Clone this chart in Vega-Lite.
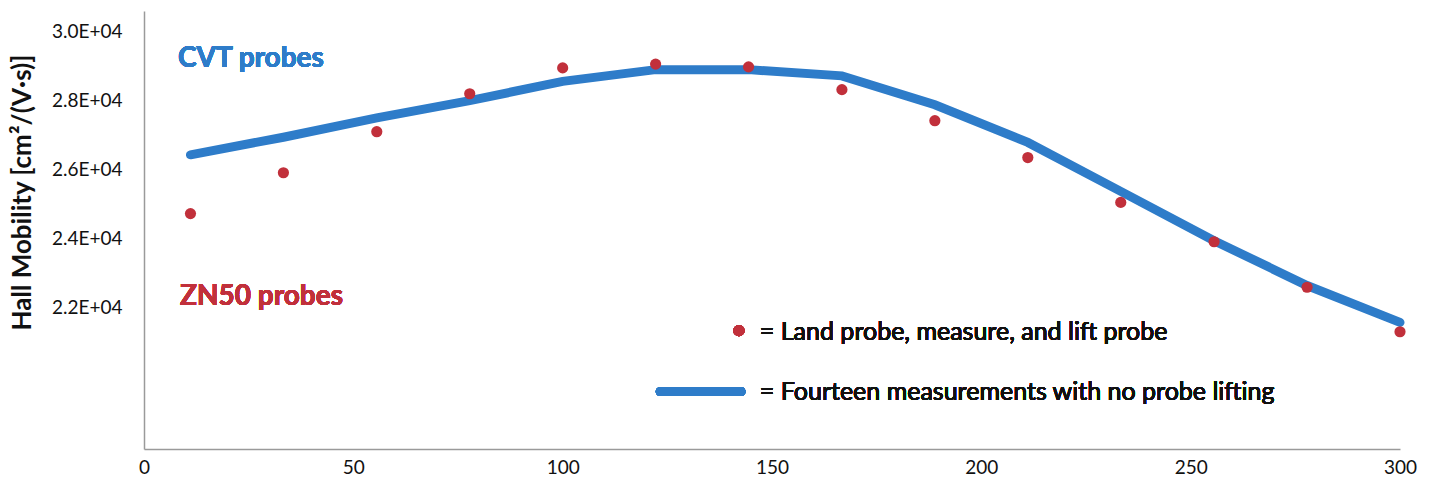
{
  "$schema": "https://vega.github.io/schema/vega-lite/v6.json",
  "autosize": {"type": "none"},
  "width": 1256,
  "height": 438,
  "padding": {"left": 144, "top": 11, "right": 30, "bottom": 32},
  "background": "white",
  "config": {
    "view": {"stroke": null},
    "axis": {
      "domainColor": "#9a9a9a",
      "domainWidth": 1.5,
      "ticks": false,
      "grid": false,
      "labelFont": "Lato",
      "labelFontSize": 19,
      "labelColor": "#111111"
    }
  },
  "data": {
    "values": [
      {"distance": 11.1, "lift": 24725, "continuous": 26430},
      {"distance": 33.3, "lift": 25910, "continuous": 26940},
      {"distance": 55.6, "lift": 27100, "continuous": 27500},
      {"distance": 77.8, "lift": 28200, "continuous": 28000},
      {"distance": 100, "lift": 28950, "continuous": 28560},
      {"distance": 122.2, "lift": 29060, "continuous": 28900},
      {"distance": 144.4, "lift": 28980, "continuous": 28900},
      {"distance": 166.7, "lift": 28320, "continuous": 28720},
      {"distance": 188.9, "lift": 27420, "continuous": 27880},
      {"distance": 211.1, "lift": 26350, "continuous": 26790},
      {"distance": 233.3, "lift": 25050, "continuous": 25370},
      {"distance": 255.6, "lift": 23910, "continuous": 23940},
      {"distance": 277.8, "lift": 22590, "continuous": 22640},
      {"distance": 300, "lift": 21300, "continuous": 21570}
    ]
  },
  "layer": [
    {
      "mark": {"type": "line", "color": "#2e7cc9", "strokeWidth": 9, "strokeCap": "round"},
      "encoding": {
        "x": {
          "field": "distance", "type": "quantitative",
          "scale": {"domain": [0, 300], "nice": false, "zero": false},
          "axis": {"title": null, "values": [0, 50, 100, 150, 200, 250, 300], "labelPadding": 9, "labelFlush": false}
        },
        "y": {
          "field": "continuous", "type": "quantitative",
          "scale": {"domain": [17900, 30600], "nice": false, "zero": false},
          "axis": {
            "title": "Hall Mobility [cm²/(V·s)]",
            "titleFont": "Lato",
            "titleFontSize": 26,
            "titleFontWeight": "bold",
            "titleColor": "#111111",
            "titleAngle": -90,
            "titleX": -114,
            "titleY": 181,
            "titleAlign": "center",
            "titleBaseline": "alphabetic",
            "values": [22000, 24000, 26000, 28000, 30000],
            "format": ".1e",
            "labelExpr": "replace(format(datum.value, '.1e'), 'e+4', 'E+04')",
            "labelPadding": 22
          }
        }
      }
    },
    {
      "mark": {"type": "circle", "color": "#c1303b", "opacity": 1, "size": 125},
      "encoding": {
        "x": {"field": "distance", "type": "quantitative"},
        "y": {"field": "lift", "type": "quantitative"}
      }
    },
    {
      "mark": {"type": "text", "text": "CVT probes", "font": "Lato", "fontWeight": "bold", "fontSize": 28, "color": "#2e7cc9", "align": "left", "baseline": "alphabetic"},
      "encoding": {"x": {"datum": 8.1}, "y": {"datum": 28985}}
    },
    {
      "mark": {"type": "text", "text": "ZN50 probes", "font": "Lato", "fontWeight": "bold", "fontSize": 28, "color": "#c1303b", "align": "left", "baseline": "alphabetic"},
      "encoding": {"x": {"datum": 8.6}, "y": {"datum": 22086}}
    },
    {
      "mark": {"type": "circle", "color": "#c1303b", "opacity": 1, "size": 125},
      "encoding": {"x": {"datum": 142.1}, "y": {"datum": 21332}}
    },
    {
      "mark": {"type": "rule", "color": "#2e7cc9", "strokeWidth": 9, "strokeCap": "round"},
      "encoding": {"x": {"datum": 123.3}, "x2": {"datum": 142.6}, "y": {"datum": 19564}}
    },
    {
      "mark": {"type": "text", "text": "= Land probe, measure, and lift probe", "font": "Lato", "fontSize": 25, "color": "#111111", "align": "left", "baseline": "middle"},
      "encoding": {"x": {"datum": 147.1}, "y": {"datum": 21303}}
    },
    {
      "mark": {"type": "text", "text": "= Fourteen measurements with no probe lifting", "font": "Lato", "fontSize": 25, "color": "#111111", "align": "left", "baseline": "middle"},
      "encoding": {"x": {"datum": 147.1}, "y": {"datum": 19564}}
    }
  ]
}
